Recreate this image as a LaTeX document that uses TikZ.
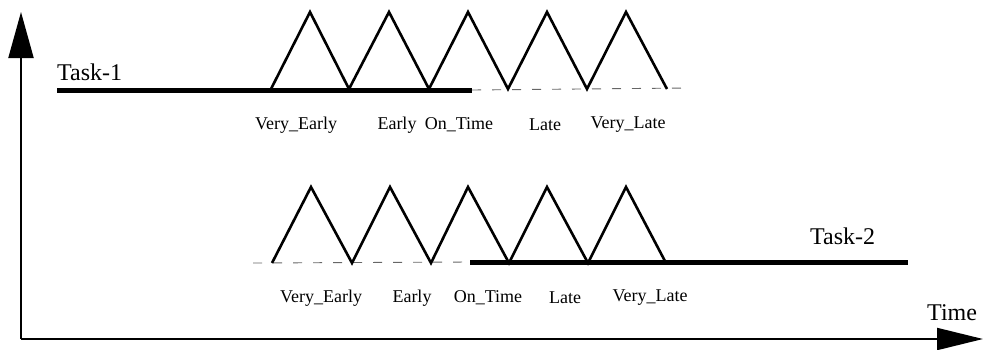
\documentclass[tikz,border=0pt]{standalone}
\usepackage{fontspec}
\setmainfont{Liberation Serif}
\usetikzlibrary{arrows.meta}
\begin{document}
\begin{tikzpicture}[x=1pt,y=-1pt,
  axis/.style={line width=2pt},
  tri/.style={line width=2.6pt, line join=miter},
  taskline/.style={line width=5pt},
  dashline/.style={line width=0.9pt, black!60, dash pattern=on 9pt off 11pt},
  setlbl/.style={font=\fontsize{18}{18}\selectfont, inner sep=0pt},
  biglbl/.style={font=\fontsize{24}{24}\selectfont, inner sep=0pt}]
\useasboundingbox (0,0) rectangle (983,349);
% axes
\coordinate (O) at (21,339);
\coordinate (Ytip) at (21,12);
\coordinate (Xtip) at (983,339);
\draw[axis,-{Triangle[length=46pt,width=25pt]}] (O) -- (Ytip);
\draw[axis,-{Triangle[length=46pt,width=22pt]}] (O) -- (Xtip);
\node[biglbl,anchor=west] (time) at (927,313) {Time};
% Task-1
\node[biglbl,anchor=west] (t1) at (57,72) {Task-1};
\coordinate (t1s) at (57,90);
\coordinate (t1e) at (472,90);
\coordinate (t1d) at (687,88);
\draw[dashline] (t1e) -- (t1d);
\draw[taskline] (t1s) -- (t1e);
\foreach \i/\x in {0/271,1/349,2/429,3/508,4/587,5/667}{\coordinate (a\i) at (\x,89);}
\foreach \i/\x in {1/310,2/389,3/468,4/547,5/626}{\coordinate (p\i) at (\x,12);}
\draw[tri] (a0) -- (p1) -- (a1) -- (p2) -- (a2) -- (p3) -- (a3) -- (p4) -- (a4) -- (p5) -- (a5);
\node[setlbl] (ve1) at (296,125) {Very\_Early};
\node[setlbl] (e1) at (397,125) {Early};
\node[setlbl] (ot1) at (459,125) {On\_Time};
\node[setlbl] (l1) at (545,125) {Late};
\node[setlbl] (vl1) at (628,125) {Very\_Late};
% Task-2
\node[biglbl,anchor=west] (t2) at (810,236) {Task-2};
\coordinate (t2d) at (253,263);
\coordinate (t2s) at (470,262);
\coordinate (t2e) at (908,262);
\draw[dashline] (t2d) -- (t2s);
\draw[taskline] (t2s) -- (t2e);
\foreach \i/\x in {0/272,1/352,2/431,3/509,4/588,5/666}{\coordinate (b\i) at (\x,263);}
\foreach \i/\x in {1/311,2/390,3/468,4/547,5/626}{\coordinate (q\i) at (\x,187);}
\draw[tri] (b0) -- (q1) -- (b1) -- (q2) -- (b2) -- (q3) -- (b3) -- (q4) -- (b4) -- (q5) -- (b5);
\node[setlbl] (ve2) at (321,298) {Very\_Early};
\node[setlbl] (e2) at (412,298) {Early};
\node[setlbl] (ot2) at (488,298) {On\_Time};
\node[setlbl] (l2) at (565,298) {Late};
\node[setlbl] (vl2) at (650,298) {Very\_Late};
\end{tikzpicture}
\end{document}
